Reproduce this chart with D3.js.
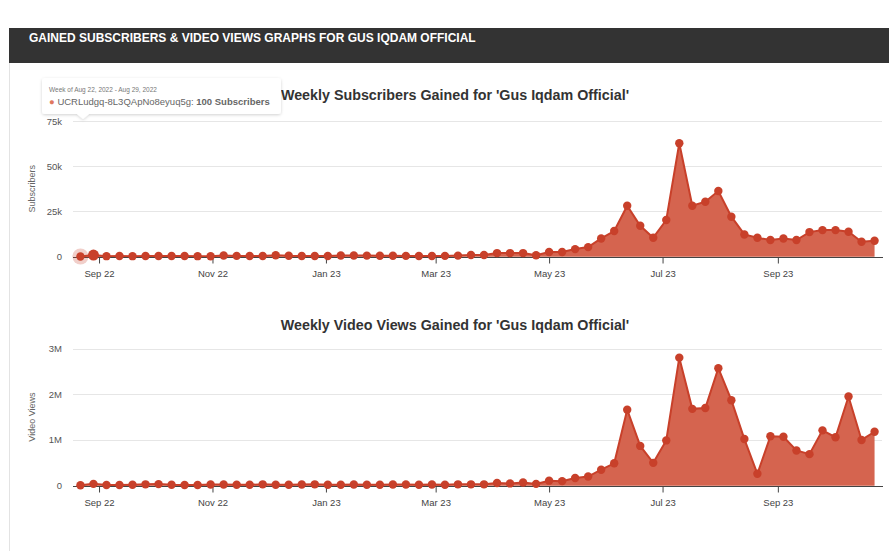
<!DOCTYPE html>
<html>
<head>
<meta charset="utf-8">
<title>Gus Iqdam Official</title>
<style>
  body { margin: 0; background: #fff; }
  svg { display: block; font-family: "Liberation Sans", Arial, sans-serif; }
</style>
</head>
<body>
<svg></svg>
<script src="https://d3js.org/d3.v7.min.js"></script>
<script>
// weekly values, first week = Aug 22, 2022
var subscribers = [100, 900, 300, 400, 300, 350, 350, 400, 350, 300, 250, 700, 450, 400, 400, 800,
  500, 400, 350, 400, 700, 700, 600, 500, 550, 450, 400, 350, 450, 600, 900,
  900, 2000, 2000, 2000, 800, 2600, 2600, 4200, 5300, 10100, 14200, 28200, 17100, 10500, 20300,
  62700, 28200, 30400, 36300, 22100, 12300, 10500, 9200, 10100, 9200, 13600, 14700, 14700, 13800, 8300, 8800];

var views = [10000, 40000, 15000, 15000, 20000, 30000, 35000, 20000, 15000, 15000, 25000, 25000, 20000,
  20000, 30000, 20000, 20000, 25000, 30000, 20000, 20000, 25000, 20000, 20000, 25000, 25000, 20000,
  25000, 20000, 30000, 30000,
  30000, 60000, 50000, 70000, 40000, 110000, 100000, 170000, 200000, 350000, 490000, 1660000, 870000,
  500000, 990000, 2800000, 1680000, 1700000, 2570000, 1870000, 1020000, 260000, 1080000, 1070000,
  770000, 690000, 1210000, 1060000, 1950000, 1000000, 1180000];

var weeks = d3.timeMonday.range(new Date(2022, 7, 22), new Date(2023, 9, 24));

var tickDates = ['2022-09-01', '2022-11-01', '2023-01-01', '2023-03-01', '2023-05-01', '2023-07-01', '2023-09-01'];
var tickLabels = ['Sep 22', 'Nov 22', 'Jan 23', 'Mar 23', 'May 23', 'Jul 23', 'Sep 23'];
var subTicks = [0, 25000, 50000, 75000], subTickLabels = ['0', '25k', '50k', '75k'];
var viewTicks = [0, 1e6, 2e6, 3e6], viewTickLabels = ['0', '1M', '2M', '3M'];

var W = 889, H = 551;
var lineColor = '#c8402a', fillColor = '#d5644f';
var parse = d3.timeParse('%Y-%m-%d');

var svg = d3.select('svg').attr('width', W).attr('height', H);

// header bar
svg.append('rect').attr('x', 9).attr('y', 28).attr('width', W - 9).attr('height', 35).attr('fill', '#333');
svg.append('text').attr('x', 29).attr('y', 41.5).text('GAINED SUBSCRIBERS & VIDEO VIEWS GRAPHS FOR GUS IQDAM OFFICIAL')
  .attr('fill', '#fff').attr('font-weight', 'bold').attr('font-size', 12);
svg.append('line').attr('x1', 9.5).attr('x2', 9.5).attr('y1', 63).attr('y2', H).attr('stroke', '#e3e3e3');

var x = d3.scaleTime()
  .domain([parse('2022-08-18'), parse('2023-10-27')])
  .range([73, 882]);

function panel(values, top, bottom, max, ticks, tickText, title, titleY, yLabel) {
  var y = d3.scaleLinear().domain([0, max]).range([bottom, top]);
  var g = svg.append('g');

  g.append('text').attr('x', 455).attr('y', titleY).attr('text-anchor', 'middle')
    .attr('font-size', 14.3).attr('font-weight', 'bold').attr('fill', '#333').text(title);

  // grid + y labels
  g.append('g').selectAll('line').data(ticks.slice(1)).join('line')
    .attr('x1', 73).attr('x2', 882)
    .attr('y1', d => Math.round(y(d)) + 0.5).attr('y2', d => Math.round(y(d)) + 0.5)
    .attr('stroke', '#e6e6e6');
  g.append('g').selectAll('text').data(ticks).join('text')
    .attr('x', 62).attr('y', d => y(d) + 3.5).attr('text-anchor', 'end')
    .attr('font-size', 9.5).attr('fill', '#555').text((d, i) => tickText[i]);

  g.append('text').attr('transform', `translate(35,${(top + bottom) / 2}) rotate(-90)`)
    .attr('text-anchor', 'middle').attr('font-size', 9).attr('fill', '#666').text(yLabel);

  var pts = values.map((v, i) => ({ date: weeks[i], value: v }));

  var area = d3.area().x(d => x(d.date)).y0(y(0)).y1(d => y(d.value));
  var line = d3.line().x(d => x(d.date)).y(d => y(d.value));
  g.append('path').attr('d', area(pts)).attr('fill', fillColor);
  g.append('path').attr('d', line(pts)).attr('fill', 'none').attr('stroke', lineColor).attr('stroke-width', 2);

  // x axis
  var xAxis = g.append('g').attr('transform', `translate(0,${Math.round(y(0)) + 0.5})`)
    .call(d3.axisBottom(x).tickValues(tickDates.map(parse)).tickSize(6)
      .tickFormat((d, i) => tickLabels[i]));
  xAxis.select('.domain').attr('d', 'M73,0H883').attr('stroke', '#444');
  xAxis.selectAll('.tick line').attr('stroke', '#444');
  xAxis.selectAll('.tick text').attr('font-size', 9.5).attr('fill', '#444').attr('dy', '1.15em')
    .style('font-family', '"Liberation Sans", Arial, sans-serif');

  return { g: g, y: y, pts: pts };
}

var top1 = panel(subscribers, 121, 256.7, 75000, subTicks, subTickLabels,
  "Weekly Subscribers Gained for 'Gus Iqdam Official'", 100, 'Subscribers');
var top2 = panel(views, 348.5, 485.7, 3e6, viewTicks, viewTickLabels,
  "Weekly Video Views Gained for 'Gus Iqdam Official'", 330, 'Video Views');

// hover halo on the first point of the top chart
top1.g.append('circle').attr('cx', x(weeks[0])).attr('cy', top1.y(subscribers[0])).attr('r', 8)
  .attr('fill', lineColor).attr('opacity', 0.25);

[top1, top2].forEach(function (p, k) {
  p.g.append('g').selectAll('circle').data(p.pts).join('circle')
    .attr('cx', d => x(d.date)).attr('cy', d => p.y(d.value))
    .attr('r', (d, i) => (k === 0 && i === 1) ? 5.5 : 4.2)
    .attr('fill', lineColor);
});

// tooltip
var tip = svg.append('g');
var defs = svg.append('defs');
var f = defs.append('filter').attr('id', 'sh').attr('x', '-10%').attr('y', '-30%').attr('width', '120%').attr('height', '160%');
f.append('feDropShadow').attr('dx', 0).attr('dy', 1).attr('stdDeviation', 1.5).attr('flood-color', '#000').attr('flood-opacity', 0.18);
tip.append('path')
  .attr('d', 'M45,78H278a3,3 0 0 1 3,3V111a3,3 0 0 1 -3,3H89L83,119L77,114H45a3,3 0 0 1 -3,-3V81a3,3 0 0 1 3,-3Z')
  .attr('fill', '#fff').attr('filter', 'url(#sh)');
tip.append('text').attr('x', 49).attr('y', 92).attr('font-size', 6.5).attr('fill', '#777')
  .text('Week of Aug 22, 2022 - Aug 29, 2022');
var t2 = tip.append('text').attr('x', 49).attr('y', 105).attr('font-size', 9.5).attr('fill', '#666');
t2.append('tspan').attr('fill', '#e0785f').text('● ');
t2.append('tspan').text('UCRLudgq-8L3QApNo8eyuq5g: ');
t2.append('tspan').attr('font-weight', 'bold').text(subscribers[0] + ' Subscribers');
</script>
</body>
</html>
